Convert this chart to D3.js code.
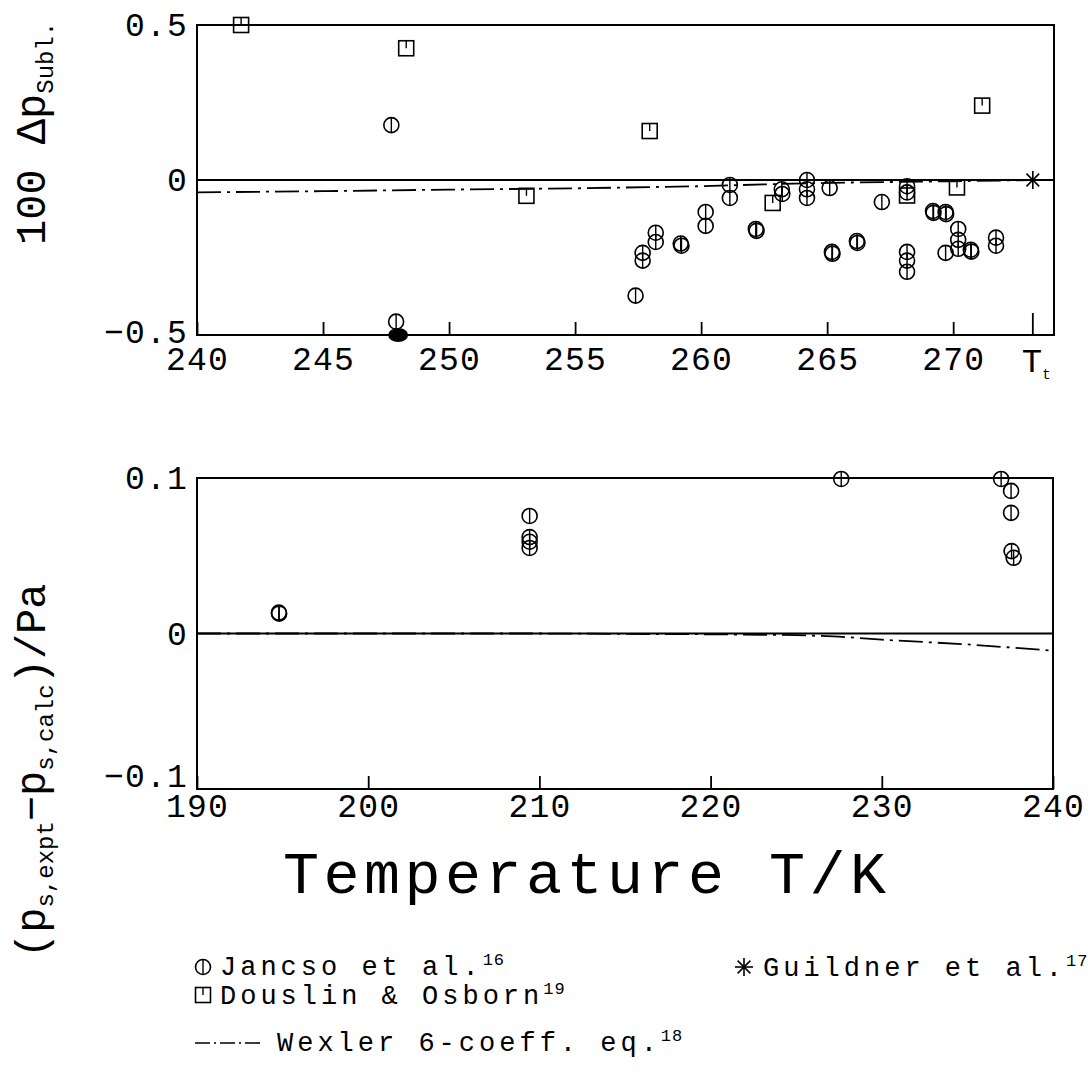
<!DOCTYPE html>
<html>
<head>
<meta charset="utf-8">
<script src="https://cdn.jsdelivr.net/npm/d3@7"></script>
<style>
  body { margin: 0; background: #fff; }
  svg { display: block; }
  text { font-family: "Courier New", "Liberation Mono", monospace; fill: #000; }
</style>
</head>
<body>
<div id="chart"></div>
<script>
// top panel: 100 Δp(subl.) vs T, 240..274 K
const jancsoTop = [
  [247.71, 0.177], [247.9, -0.457],
  [257.40, -0.373], [257.68, -0.235], [257.68, -0.26],
  [258.2, -0.17], [258.2, -0.2],
  [259.19, -0.205], [259.22, -0.212],
  [260.18, -0.103], [260.18, -0.148],
  [261.14, -0.016], [261.14, -0.058],
  [262.17, -0.158], [262.2, -0.164],
  [263.2, -0.03], [263.22, -0.045],
  [264.2, 0.0], [264.2, -0.03], [264.2, -0.058],
  [265.1, -0.026], [265.19, -0.232], [265.21, -0.238],
  [266.18, -0.197], [266.2, -0.203],
  [267.17, -0.071],
  [268.17, -0.02], [268.17, -0.04],
  [268.17, -0.232], [268.17, -0.26], [268.17, -0.296],
  [269.2, -0.1], [269.22, -0.106],
  [269.7, -0.103], [269.72, -0.11], [269.7, -0.235],
  [270.2, -0.158], [270.2, -0.193], [270.2, -0.222],
  [270.7, -0.225], [270.72, -0.231],
  [271.7, -0.186], [271.7, -0.212]
];
const douslinTop = [
  [241.75, 0.5], [248.3, 0.425], [253.07, -0.051], [257.96, 0.158],
  [262.84, -0.074], [268.17, -0.05], [270.15, -0.024], [271.15, 0.24]
];
const guildnerTop = [[273.16, 0]];
const offScaleTop = [[247.98, -0.5]];
const wexlerTop = [
  [240, -0.04], [245, -0.036], [250, -0.031], [255, -0.027], [260, -0.02],
  [263, -0.013], [266, -0.008], [270, -0.004], [273.16, 0]
];

// bottom panel: (p_s,expt - p_s,calc)/Pa vs T, 190..240 K
const jancsoBottom = [
  [194.78, 0.0135], [194.8, 0.0128],
  [209.43, 0.0756], [209.43, 0.062], [209.43, 0.059], [209.43, 0.055],
  [227.63, 0.0994], [236.97, 0.0994],
  [237.55, 0.0917], [237.55, 0.0776], [237.58, 0.053], [237.7, 0.0487]
];
const wexlerBottom = [
  [190, 0], [200, 0], [210, 0], [220, -0.0005], [225, -0.001], [227.5, -0.002],
  [230, -0.004], [232.5, -0.0055], [235, -0.007], [237.5, -0.009], [240, -0.011]
];

const topXTicks = [240, 245, 250, 255, 260, 265, 270];
const topYTicks = [-0.5, 0, 0.5];
const tripleTemp = 273.16;
const bottomXTicks = [190, 200, 210, 220, 230, 240];
const bottomYTicks = [-0.1, 0, 0.1];

const W = 1088, H = 1072;
const svg = d3.select('#chart').append('svg').attr('width', W).attr('height', H);

const left = 197, right = 1054;

// scales
const xTop = d3.scaleLinear().domain([240, 274]).range([left, right]);
const yTop = d3.scaleLinear().domain([-0.5, 0.5]).range([335, 25]);
const xBot = d3.scaleLinear().domain([190, 240]).range([left, right - 1]);
const yBot = d3.scaleLinear().domain([-0.1, 0.1]).range([789, 478]);

const fmtY = d => d === 0 ? '0' : d3.format('.1f')(d);

// marker helpers
function phi(g, x, y) {
  g.append('circle').attr('cx', x).attr('cy', y).attr('r', 7.5)
    .attr('fill', 'none').attr('stroke', '#000').attr('stroke-width', 1.6);
  g.append('line').attr('x1', x).attr('x2', x).attr('y1', y - 7.5).attr('y2', y + 7.5)
    .attr('stroke', '#000').attr('stroke-width', 1.4);
}
function boxTick(g, x, y) {
  g.append('rect').attr('x', x - 7.5).attr('y', y - 7.5).attr('width', 15).attr('height', 15)
    .attr('fill', 'none').attr('stroke', '#000').attr('stroke-width', 1.6);
  g.append('line').attr('x1', x).attr('x2', x).attr('y1', y - 7.5).attr('y2', y)
    .attr('stroke', '#000').attr('stroke-width', 1.4);
}
function star(g, x, y) {
  const r = 9;
  [0, 45, 90, 135].forEach(a => {
    const dx = r * Math.cos(a * Math.PI / 180), dy = r * Math.sin(a * Math.PI / 180);
    g.append('line').attr('x1', x - dx).attr('x2', x + dx).attr('y1', y - dy).attr('y2', y + dy)
      .attr('stroke', '#000').attr('stroke-width', 1.6);
  });
}

function panel(x, y, xTicks, yTicks, labelPad, lowLift) {
  const g = svg.append('g');
  // frame
  g.append('rect')
    .attr('x', x.range()[0]).attr('y', y.range()[1])
    .attr('width', x.range()[1] - x.range()[0]).attr('height', y.range()[0] - y.range()[1])
    .attr('fill', 'none').attr('stroke', '#000').attr('stroke-width', 2);
  // zero line
  g.append('line').attr('x1', x.range()[0]).attr('x2', x.range()[1])
    .attr('y1', y(0)).attr('y2', y(0)).attr('stroke', '#000').attr('stroke-width', 2);

  // x axis, ticks pointing inward
  const ax = g.append('g').attr('transform', `translate(0,${y.range()[0]})`)
    .call(d3.axisBottom(x).tickValues(xTicks).tickSize(-13).tickSizeOuter(0)
      .tickPadding(labelPad).tickFormat(d3.format('d')));
  ax.select('.domain').remove();
  ax.selectAll('line').attr('stroke-width', 1.8);
  ax.selectAll('text').attr('font-size', 33).attr('letter-spacing', 1.2);

  // y axis labels only
  const ay = g.append('g').attr('transform', `translate(${x.range()[0]},0)`)
    .call(d3.axisLeft(y).tickValues(yTicks).tickSize(0).tickPadding(9).tickFormat(fmtY));
  ay.select('.domain').remove();
  ay.selectAll('text').attr('font-size', 33).attr('letter-spacing', 1.2);
  // lowest label sits a little above the corner, as in the original
  ay.selectAll('.tick').filter(d => d === yTicks[0]).select('text').attr('y', -lowLift);
  return g;
}

// ---- top panel
const gTop = panel(xTop, yTop, topXTicks, topYTicks, 12, 3);

// triple point tick and label
gTop.append('line').attr('x1', xTop(tripleTemp)).attr('x2', xTop(tripleTemp))
  .attr('y1', yTop(-0.5)).attr('y2', yTop(-0.5) - 22).attr('stroke', '#000').attr('stroke-width', 1.8);
const tt = gTop.append('text').attr('x', xTop(tripleTemp) - 11).attr('y', 372).attr('font-size', 34);
tt.append('tspan').text('T');
tt.append('tspan').attr('font-size', 14).attr('dy', 7).text('t');

const line = (x, y) => d3.line().x(d => x(d[0])).y(d => y(d[1]));

gTop.append('path').datum(wexlerTop).attr('d', line(xTop, yTop))
  .attr('fill', 'none').attr('stroke', '#000').attr('stroke-width', 1.8)
  .attr('stroke-dasharray', '24,6,3,6');

douslinTop.forEach(d => boxTick(gTop, xTop(d[0]), yTop(d[1])));
jancsoTop.forEach(d => phi(gTop, xTop(d[0]), yTop(d[1])));
guildnerTop.forEach(d => star(gTop, xTop(d[0]), yTop(d[1])));
offScaleTop.forEach(d => {
  gTop.append('ellipse').attr('cx', xTop(d[0])).attr('cy', yTop(d[1]))
    .attr('rx', 10).attr('ry', 7).attr('fill', '#000');
});

// ---- bottom panel
const gBot = panel(xBot, yBot, bottomXTicks, bottomYTicks, 5, 13);

gBot.append('path').datum(wexlerBottom).attr('d', line(xBot, yBot))
  .attr('fill', 'none').attr('stroke', '#000').attr('stroke-width', 1.8)
  .attr('stroke-dasharray', '24,6,3,6');
jancsoBottom.forEach(d => phi(gBot, xBot(d[0]), yBot(d[1])));

// ---- axis titles
const t1 = svg.append('text').attr('transform', 'translate(45,245) rotate(-90)').attr('font-size', 42);
t1.append('tspan').text('100 Δp');
t1.append('tspan').attr('font-size', 24).attr('dy', 8).text('Subl.');

const t2 = svg.append('text').attr('transform', 'translate(45,958) rotate(-90)').attr('font-size', 42);
t2.append('tspan').text('(p');
t2.append('tspan').attr('font-size', 24).attr('dy', 8).text('s,expt');
t2.append('tspan').attr('dy', -8).text('−p');
t2.append('tspan').attr('font-size', 24).attr('dy', 8).text('s,calc');
t2.append('tspan').attr('dy', -8).text(')/Pa');

svg.append('text').attr('x', 283).attr('y', 893)
  .attr('font-size', 60).attr('letter-spacing', 4.5).text('Temperature T/K');

// ---- legend
const lg = svg.append('g');
function legendText(x, y, label, sup) {
  const t = lg.append('text').attr('x', x).attr('y', y).attr('font-size', 27).attr('letter-spacing', 4);
  t.append('tspan').text(label);
  t.append('tspan').attr('font-size', 17).attr('letter-spacing', 1).attr('dy', -10).text(sup);
}
phi(lg, 203, 967);
legendText(220, 975, 'Jancso et al.', '16');
boxTick(lg, 203, 995);
legendText(220, 1004, 'Douslin & Osborn', '19');
lg.append('line').attr('x1', 195).attr('x2', 260).attr('y1', 1043).attr('y2', 1043)
  .attr('stroke', '#000').attr('stroke-width', 1.6).attr('stroke-dasharray', '15,4,2,4');
legendText(277, 1051, 'Wexler 6-coeff. eq.', '18');
star(lg, 744, 967);
legendText(763, 976, 'Guildner et al.', '17');
</script>
</body>
</html>
